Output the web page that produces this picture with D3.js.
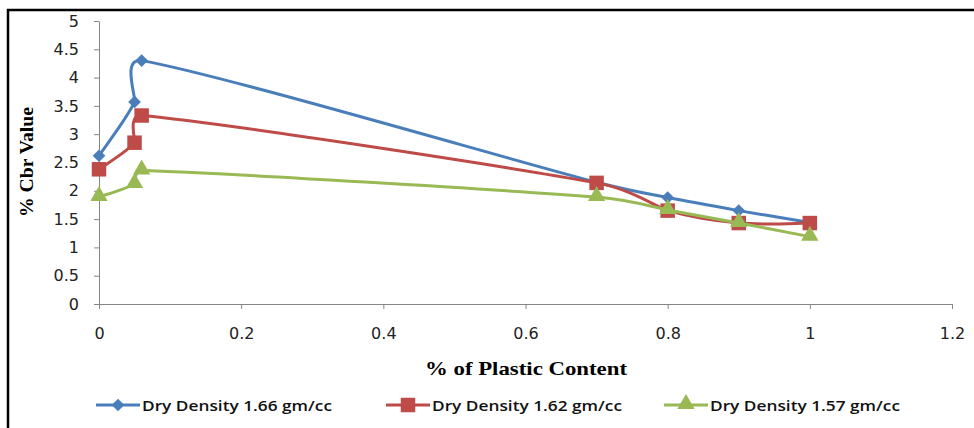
<!DOCTYPE html>
<html><head><meta charset="utf-8">
<script src="https://cdn.jsdelivr.net/npm/d3@7"></script>
<style>body{margin:0;background:#fff}svg{display:block}</style>
</head><body><svg id="c" width="974" height="428"></svg>
<script>
const plastic = [0, 0.05, 0.06, 0.7, 0.8, 0.9, 1];
const dd166 = [2.62, 3.57, 4.3, 2.15, 1.88, 1.65, 1.44];
const dd162 = [2.38, 2.85, 3.33, 2.14, 1.65, 1.43, 1.43];
const dd157 = [1.89, 2.12, 2.36, 1.89, 1.66, 1.43, 1.19];
const seriesNames = ["Dry Density 1.66 gm/cc", "Dry Density 1.62 gm/cc", "Dry Density 1.57 gm/cc"];
const seriesColors = ["#4a7ebb", "#be4b48", "#98b954"];
const xTicks = [0, 0.2, 0.4, 0.6, 0.8, 1, 1.2];
const yTicks = [0, 0.5, 1, 1.5, 2, 2.5, 3, 3.5, 4, 4.5, 5];

const svg = d3.select("#c");
svg.append("path").attr("d","M8,428 L8,10 L974,10").attr("fill","none").attr("stroke","#000").attr("stroke-width",2.5);

const x = d3.scaleLinear().domain([0,1.2]).range([99,952]);
const y = d3.scaleLinear().domain([0,5]).range([304,21]);

const xAxis = svg.append("g").attr("transform","translate(0,304)")
  .call(d3.axisBottom(x).tickValues(xTicks).tickSize(5).tickSizeOuter(0).tickFormat(d3.format("")));
const yAxis = svg.append("g").attr("transform","translate(99,0)")
  .call(d3.axisLeft(y).tickValues(yTicks).tickSize(5).tickSizeOuter(0).tickFormat(d3.format("")));
[xAxis,yAxis].forEach(a=>{
  a.select(".domain").attr("stroke","#868686").attr("stroke-width",1);
  a.selectAll(".tick line").attr("stroke","#868686");
  a.selectAll("text").attr("fill","#222").attr("font-family","'DejaVu Sans', sans-serif").attr("font-size",16);
});
xAxis.selectAll("text").attr("y",24);
yAxis.selectAll("text").attr("x",-20);

svg.append("text").attr("transform","translate(33,162) rotate(-90)").attr("text-anchor","middle")
  .attr("font-family","'Liberation Serif',serif").attr("font-weight","bold").attr("font-size",19)
  .attr("textLength",110).attr("lengthAdjust","spacingAndGlyphs").text("% Cbr Value");
svg.append("text").attr("x",526).attr("y",375).attr("text-anchor","middle")
  .attr("font-family","'Liberation Serif',serif").attr("font-weight","bold").attr("font-size",19)
  .attr("textLength",202).attr("lengthAdjust","spacingAndGlyphs").text("% of Plastic Content");

// Excel-like smoothing: Catmull-Rom tangents with arm lengths capped per segment
function smoothPath(pts){
  const n = pts.length, T = [];
  for(let i=0;i<n;i++){
    const a = pts[Math.max(0,i-1)], b = pts[Math.min(n-1,i+1)];
    T.push([(b[0]-a[0])/6,(b[1]-a[1])/6]);
  }
  const p = d3.path();
  p.moveTo(pts[0][0],pts[0][1]);
  for(let i=0;i<n-1;i++){
    const P=pts[i], Q=pts[i+1];
    const L = Math.hypot(Q[0]-P[0],Q[1]-P[1]);
    const la = Math.hypot(T[i][0],T[i][1]), lb = Math.hypot(T[i+1][0],T[i+1][1]);
    const s = (la+lb) > 0.6*L ? 0.6*L/(la+lb) : 1;
    p.bezierCurveTo(P[0]+T[i][0]*s, P[1]+T[i][1]*s, Q[0]-T[i+1][0]*s, Q[1]-T[i+1][1]*s, Q[0], Q[1]);
  }
  return p.toString();
}

const data = [dd166, dd162, dd157];
const symbols = [
  d3.symbol().type(d3.symbolSquare).size(80),
  d3.symbol().type(d3.symbolSquare).size(210),
  d3.symbol().type(d3.symbolTriangle).size(130)
];
const symT = ["rotate(45)", "", "translate(0,-1)"];
data.forEach((vals,i)=>{
  const pts = plastic.map((p,j)=>[x(p),y(vals[j])]);
  svg.append("path").attr("d",smoothPath(pts)).attr("fill","none").attr("stroke",seriesColors[i]).attr("stroke-width",3);
  svg.selectAll(null).data(pts).enter().append("path")
    .attr("d",symbols[i]())
    .attr("transform",d=>`translate(${d[0]},${d[1]}) ${symT[i]}`)
    .attr("fill",seriesColors[i]);
});

const legX = [96, 386, 664];
seriesNames.forEach((n,i)=>{
  const g = svg.append("g").attr("transform",`translate(${legX[i]},405)`);
  g.append("line").attr("x1",0).attr("x2",44).attr("stroke",seriesColors[i]).attr("stroke-width",3);
  g.append("path").attr("d",symbols[i]()).attr("transform","translate(22,0) "+symT[i]).attr("fill",seriesColors[i]);
  g.append("text").attr("x",46).attr("y",5.5).attr("font-family","'Open Sans', sans-serif").attr("font-weight",600)
    .attr("font-size",15).attr("fill","#111").attr("textLength",190).attr("lengthAdjust","spacingAndGlyphs").text(n);
});
</script></body></html>
